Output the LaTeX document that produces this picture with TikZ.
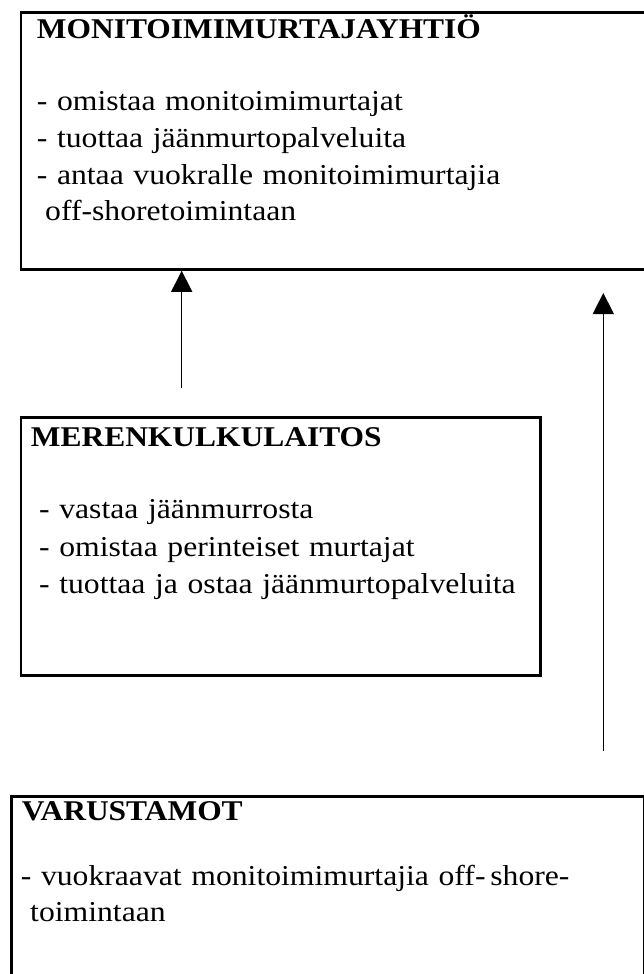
\documentclass[tikz,border=0pt]{standalone}
\usepackage{fontspec}
\setmainfont[FakeStretch=1.1]{Liberation Serif}
\usetikzlibrary{arrows.meta,positioning}

\begin{document}
\begin{tikzpicture}[
    x=1pt, y=-1pt,
    frame/.style={rectangle, draw, line width=2.8pt, anchor=north west, inner sep=0pt},
    heading/.style={anchor=base west, inner sep=0pt, font=\fontsize{28.6}{36.8}\selectfont\bfseries},
    items/.style={anchor=base west, inner sep=0pt, text width=600pt, align=left, font=\fontsize{28.8}{36.8}\selectfont},
    arrow/.style={-{Triangle[width=21pt, length=21pt]}, line width=1.4pt}
]
    \useasboundingbox (0,0) rectangle (644,974);
    \clip (0,0) rectangle (644,974);

    \node[frame, minimum width=641pt, minimum height=257pt] (moni) at (19.5,11) {};
    \node[heading] (monihead) at ([shift={(17.2,27.5)}]moni.north west) {MONITOIMIMURTAJAYHTIÖ};
    \node[items] (monilist) at ([shift={(17.2,99.5)}]moni.north west) {- omistaa monitoimimurtajat\\- tuottaa jäänmurtopalveluita\\- antaa vuokralle monitoimimurtajia\\\hspace*{8.3pt}off-shoretoimintaan};

    \node[frame, minimum width=519.5pt, minimum height=258pt] (meri) at (19.5,416) {};
    \node[heading] (merihead) at ([shift={(11.2,30)}]meri.north west) {MERENKULKULAITOS};
    \node[items] (merilist) at ([shift={(19.5,102.5)}]meri.north west) {- vastaa jäänmurrosta\\[0.7pt]- omistaa perinteiset murtajat\\[0.7pt]- tuottaa ja ostaa jäänmurtopalveluita};

    \node[frame, minimum width=633pt, minimum height=215pt] (varu) at (10,795) {};
    \node[heading] (varuhead) at ([shift={(11.7,25.5)}]varu.north west) {VARUSTAMOT};
    \node[items] (varulist) at ([shift={(10.7,90)}]varu.north west) {- vuokraavat monitoimimurtajia off-\,shore-\\\hspace*{9.3pt}toimintaan};

    \coordinate (merifoot) at (181.7,388);
    \draw[arrow] (merifoot) -- (merifoot |- moni.south);
    \coordinate (varufoot) at (603.3,750.7);
    \coordinate (varutip) at (603.3,293);
    \draw[arrow] (varufoot) -- (varutip);

\end{tikzpicture}
\end{document}
